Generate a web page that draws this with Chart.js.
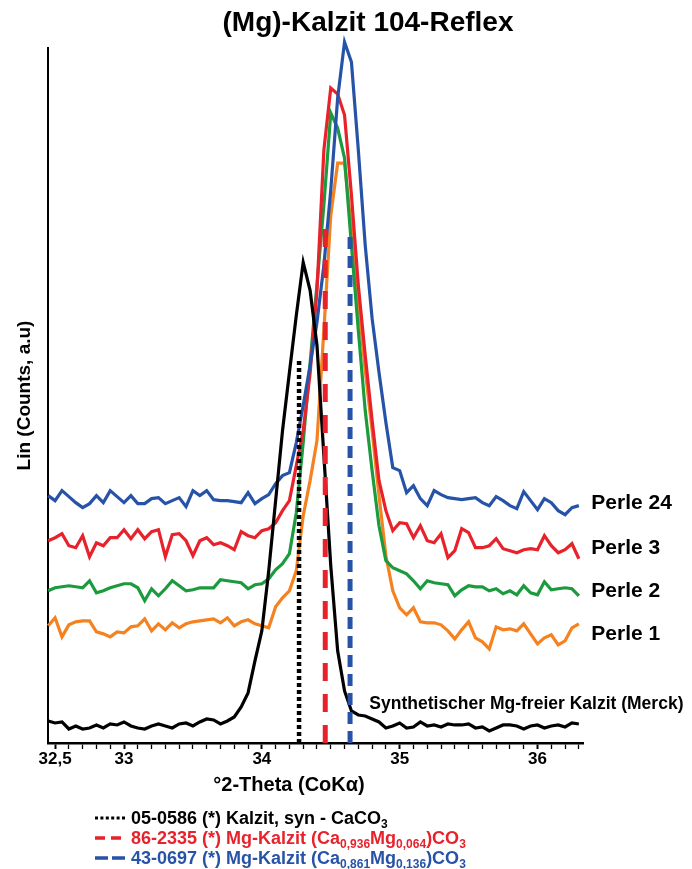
<!DOCTYPE html>
<html><head><meta charset="utf-8">
<script src="https://cdn.jsdelivr.net/npm/chart.js@4.4.1/dist/chart.umd.min.js"></script>
<style>
html,body{margin:0;padding:0;background:#fff;}
#wrap{position:relative;width:692px;height:869px;overflow:hidden;}
#c{position:absolute;left:0;top:0;}
#legend{position:absolute;left:95px;top:808px;font:bold 18px "Liberation Sans",Arial,sans-serif;}
.row{display:flex;align-items:center;height:20px;white-space:nowrap;}
.row svg{margin-right:6px;}
.row sub{font-size:12px;vertical-align:-4px;line-height:0;}
</style></head>
<body><div id="wrap"><canvas id="c" width="692" height="869"></canvas><div id="legend"></div></div>
<script>
// 2-theta positions (°)
const theta = [32.45,32.50,32.55,32.60,32.65,32.70,32.75,32.80,32.85,32.90,
32.95,33.00,33.05,33.10,33.15,33.20,33.25,33.30,33.35,33.40,
33.45,33.50,33.55,33.60,33.65,33.70,33.75,33.80,33.85,33.90,
33.95,34.00,34.05,34.10,34.15,34.20,34.25,34.30,34.35,34.40,
34.45,34.50,34.55,34.60,34.65,34.70,34.75,34.80,34.85,34.90,
34.95,35.00,35.05,35.10,35.15,35.20,35.25,35.30,35.35,35.40,
35.45,35.50,35.55,35.60,35.65,35.70,35.75,35.80,35.85,35.90,
35.95,36.00,36.05,36.10,36.15,36.20,36.25,36.30];

// intensities (a.u., offset curves)
const perle24 = [247,242,252,246,240,235,239,247,240,252,
246,240,247,239,239,244,245,239,242,245,
236,252,247,252,243,242,242,241,240,250,
239,244,248,259,267,270,300,337,377,420,
477,552,644,700,680,592,497,424,370,320,
275,272,250,257,244,237,252,248,245,244,
243,244,245,240,237,246,242,237,234,251,
242,233,244,240,232,228,235,237];
const perle3 = [202,205,209,197,195,207,186,200,197,205,
205,213,204,213,204,211,213,186,208,209,
202,187,202,205,198,200,197,193,211,207,
205,212,214,220,232,242,277,312,369,452,
592,654,648,627,547,457,387,322,262,232,
212,220,219,205,217,202,200,209,185,192,
214,210,195,195,197,204,194,192,190,193,
194,193,207,197,190,193,199,184];
const perle2 = [152,155,156,157,156,155,162,150,152,155,
157,159,159,155,142,154,147,154,162,157,
152,153,155,155,155,163,162,161,160,154,
158,159,164,173,179,189,230,300,379,458,
537,629,614,584,497,412,332,272,217,182,
175,172,169,162,154,162,160,159,158,147,
153,157,156,156,152,154,149,152,148,157,
150,148,161,153,154,155,154,147];
const perle1 = [117,125,106,118,121,122,122,111,109,106,
111,110,116,117,124,112,119,113,120,115,
119,121,122,123,124,120,125,117,121,123,
119,117,115,136,145,152,172,227,262,302,
412,527,579,579,514,442,372,312,247,187,
152,135,128,135,121,120,120,118,112,104,
113,121,105,101,94,116,113,114,112,119,
109,99,105,108,98,102,115,119];
const merck = [22,20,21,14,17,14,15,18,15,19,
18,21,17,15,14,17,19,17,15,19,
20,17,21,24,23,19,22,26,36,50,
82,112,172,242,312,370,427,480,452,397,
287,177,92,52,32,28,27,24,21,15,
17,20,15,16,21,17,18,16,19,18,
18,19,15,16,12,15,18,18,17,14,
17,18,15,17,18,16,20,19];

// reference patterns (PDF cards): position and drawn height
const refCards = ['05-0586','86-2335','43-0697'];
const refPos = [34.27, 34.46, 34.64];
const refHeight = [384, 514, 509];

// axis tick labels
const tickValues = [32.5, 33, 34, 35, 36];
const tickTexts = ['32,5','33','34','35','36'];

const seriesNames = ['Perle 24','Perle 3','Perle 2','Perle 1','Synthetischer Mg-freier Kalzit (Merck)'];
const legendTexts = [
  '05-0586 (*) Kalzit, syn - CaCO<sub>3</sub>',
  '86-2335 (*) Mg-Kalzit (Ca<sub>0,936</sub>Mg<sub>0,064</sub>)CO<sub>3</sub>',
  '43-0697 (*) Mg-Kalzit (Ca<sub>0,861</sub>Mg<sub>0,136</sub>)CO<sub>3</sub>'
];

const BLUE='#2653a8', RED='#e8222b', GREEN='#1c9a3e', ORANGE='#f58220', BLACK='#000';
const FONT='"Liberation Sans", Arial, sans-serif';

const xy = arr => arr.map((v,i)=>({x:theta[i], y:v}));
const curve = (label, arr, color) => ({label, data: xy(arr), borderColor: color, borderWidth: 3.2,
  pointRadius: 0, fill: false, tension: 0, clip: false});
const refLine = (i, color, dash, w) => ({label: refCards[i],
  data: [{x: refPos[i], y: 0}, {x: refPos[i], y: refHeight[i]}],
  borderColor: color, borderWidth: w, borderDash: dash, borderCapStyle: 'butt', pointRadius: 0, fill: false});

const annot = {
  id: 'annot',
  afterDraw(chart) {
    const {ctx, scales: {x, y}} = chart;
    ctx.save();
    ctx.fillStyle = '#000';
    ctx.textBaseline = 'middle';
    ctx.textAlign = 'left';
    ctx.font = 'bold 21px ' + FONT;
    const lx = x.getPixelForValue(36.39);
    [239, 195, 152, 109].forEach((lv, i) => ctx.fillText(seriesNames[i], lx, y.getPixelForValue(lv)));
    ctx.font = 'bold 17.5px ' + FONT;
    ctx.fillText(seriesNames[4], x.getPixelForValue(34.78), y.getPixelForValue(39));
    // title
    ctx.textAlign = 'center';
    ctx.textBaseline = 'alphabetic';
    ctx.font = 'bold 28px ' + FONT;
    ctx.fillText('(Mg)-Kalzit 104-Reflex', 368, 31);
    // x axis title
    ctx.textBaseline = 'middle';
    ctx.font = 'bold 20px ' + FONT;
    ctx.fillText('°2-Theta (CoKα)', 289, 785);
    ctx.restore();
  }
};

new Chart(document.getElementById('c'), {
  type: 'line',
  data: {
    datasets: [
      refLine(0, BLACK, [4, 3], 4.5),
      refLine(1, RED, [18, 13], 5),
      refLine(2, BLUE, [12, 7], 5),
      curve(seriesNames[4], merck, BLACK),
      curve(seriesNames[0], perle24, BLUE),
      curve(seriesNames[1], perle3, RED),
      curve(seriesNames[2], perle2, GREEN),
      curve(seriesNames[3], perle1, ORANGE)
    ]
  },
  options: {
    responsive: false,
    devicePixelRatio: 1,
    animation: false,
    events: [],
    layout: {padding: {left: 13.4, right: 109, top: 48, bottom: 99.6}},
    plugins: {legend: {display: false}, tooltip: {enabled: false}, title: {display: false}},
    scales: {
      x: {
        type: 'linear', min: 32.45, max: 36.33,
        border: {display: true, color: '#000', width: 2.5},
        grid: {display: true, drawOnChartArea: false, drawTicks: true, tickLength: 6, tickColor: '#000',
          tickWidth: c => tickValues.some(t => Math.abs(t - c.tick.value) < 1e-6) ? 2 : 1.3},
        ticks: {stepSize: 0.1, includeBounds: false, autoSkip: false, maxRotation: 0, minRotation: 0,
          padding: 0, color: '#000', font: {family: FONT, size: 17, weight: 'bold'},
          callback: v => { const i = tickValues.findIndex(t => Math.abs(t - v) < 1e-6); return i >= 0 ? tickTexts[i] : ''; }}
      },
      y: {
        type: 'linear', min: 0, max: 694,
        border: {display: true, color: '#000', width: 2},
        grid: {display: true, drawOnChartArea: false, drawTicks: false},
        ticks: {display: false},
        title: {display: true, text: 'Lin (Counts, a.u)', color: '#000',
          font: {family: FONT, size: 19, weight: 'bold'}, padding: {top: 0, bottom: 12}}
      }
    }
  },
  plugins: [annot]
});

// legend for reference cards
const swatches = [
  '<svg width="30" height="8"><line x1="0" y1="4" x2="30" y2="4" stroke="#000" stroke-width="3" stroke-dasharray="3 2.4"/></svg>',
  '<svg width="30" height="8"><line x1="0" y1="4" x2="30" y2="4" stroke="' + RED + '" stroke-width="3.5" stroke-dasharray="10 6"/></svg>',
  '<svg width="30" height="8"><line x1="0" y1="4" x2="30" y2="4" stroke="' + BLUE + '" stroke-width="3.5" stroke-dasharray="13 4"/></svg>'
];
const legendColors = ['#000', RED, BLUE];
document.getElementById('legend').innerHTML = legendTexts.map((t, i) =>
  '<div class="row" style="color:' + legendColors[i] + '">' + swatches[i] + '<span>' + t + '</span></div>').join('');
</script></body></html>
